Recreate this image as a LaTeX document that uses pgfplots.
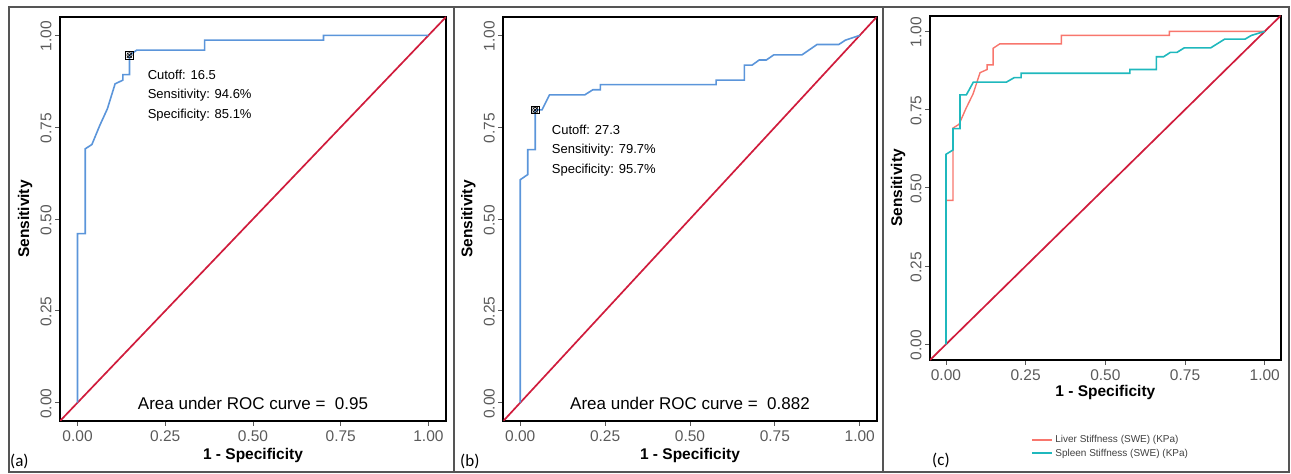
\documentclass[border=0pt]{standalone}
\usepackage{fontspec}
\setmainfont{Liberation Sans}
\newfontfamily\calib{Carlito}
\usepackage{pgfplots}
\pgfplotsset{compat=1.18}
\usepackage{pgfplotstable}

\definecolor{rocblue}{HTML}{5B95DA}
\definecolor{diagred}{HTML}{D01C3C}
\definecolor{liver}{HTML}{F8766D}
\definecolor{spleen}{HTML}{1FB8BD}
\definecolor{ticktext}{HTML}{5A5A5A}
\definecolor{framegray}{HTML}{555555}

% liver stiffness ROC (panel a, salmon in c)
\pgfplotstableread{
x y
0 0
0 0.46
0.022 0.46
0.022 0.691
0.041 0.703
0.063 0.754
0.085 0.800
0.107 0.868
0.129 0.878
0.129 0.893
0.148 0.893
0.148 0.946
0.169 0.960
0.362 0.960
0.362 0.987
0.701 0.987
0.701 1.0
1.0 1.0
}\livertab

% spleen stiffness ROC (panel b, teal in c)
\pgfplotstableread{
x y
0 0
0 0.607
0.022 0.621
0.022 0.689
0.044 0.689
0.044 0.797
0.064 0.797
0.086 0.838
0.190 0.838
0.214 0.852
0.236 0.852
0.236 0.866
0.577 0.866
0.577 0.878
0.660 0.878
0.660 0.919
0.683 0.919
0.704 0.933
0.725 0.933
0.747 0.947
0.830 0.947
0.874 0.975
0.938 0.975
0.958 0.987
1.0 1.0
}\spleentab

\pgfplotsset{
  rocaxis/.style={
    scale only axis,
    anchor=south west,
    xmin=-0.05, xmax=1.05, ymin=-0.05, ymax=1.05,
    xtick={0,0.25,0.5,0.75,1}, ytick={0,0.25,0.5,0.75,1},
    xtick pos=left, ytick pos=left,
    tick align=outside,
    major tick length=5pt,
    tick style={ticktext, line width=0.8pt},
    axis line style={black, line width=1.9pt},
    /pgf/number format/.cd, fixed, fixed zerofill, precision=2, assume math mode=true,
    /pgfplots/.cd,
    tick label style={font=\fontsize{15.5}{16}\selectfont, text=ticktext},
    xticklabel style={yshift=-1pt},
    yticklabel style={rotate=90, anchor=south, xshift=-1pt},
    xlabel={1 - Specificity}, ylabel={Sensitivity},
    label style={font=\bfseries\fontsize{15.5}{16}\selectfont},
    clip=true,
  },
  roc/.style={rocblue, line width=1.6pt},
  diag/.style={diagred, line width=1.7pt},
}

\begin{document}
\begin{tikzpicture}
\useasboundingbox (0pt,0pt) rectangle (1291pt,474pt);

% panel (a)
\begin{axis}[rocaxis, at={(60pt,53pt)}, width=386pt, height=404pt,
  xlabel style={at={(axis description cs:0.5,0)}, anchor=center, yshift=-34pt},
  ylabel style={at={(axis description cs:0,0.5)}, anchor=center, yshift=35pt}]
\addplot[diag] coordinates {(-0.05,-0.05) (1.05,1.05)};
\addplot[roc] table[x=x,y=y] {\livertab};
\addplot[only marks, mark=square, mark size=3.8pt, line width=0.8pt] coordinates {(0.148,0.946)};
\addplot[only marks, mark=x, mark size=3.6pt, line width=0.6pt] coordinates {(0.148,0.946)};
\addplot[only marks, mark=o, mark size=2.6pt, line width=0.6pt] coordinates {(0.148,0.946)};
\node[anchor=west, font=\fontsize{13}{14}\selectfont] at (axis cs:0.19,0.893) {Cutoff: 16.5};
\node[anchor=west, font=\fontsize{13}{14}\selectfont] at (axis cs:0.19,0.837) {Sensitivity: 94.6\%};
\node[anchor=west, font=\fontsize{13}{14}\selectfont] at (axis cs:0.19,0.782) {Specificity: 85.1\%};
\node[font=\fontsize{17}{18}\selectfont] at (axis cs:0.5,-0.002) {Area under ROC curve =\ \ 0.95};
\end{axis}

% panel (b)
\begin{axis}[rocaxis, at={(503.3pt,53pt)}, width=373.4pt, height=404pt,
  xlabel style={at={(axis description cs:0.5,0)}, anchor=center, yshift=-34pt},
  ylabel style={at={(axis description cs:0,0.5)}, anchor=center, yshift=35pt}]
\addplot[diag] coordinates {(-0.05,-0.05) (1.05,1.05)};
\addplot[roc] table[x=x,y=y] {\spleentab};
\addplot[only marks, mark=square, mark size=3.8pt, line width=0.8pt] coordinates {(0.044,0.797)};
\addplot[only marks, mark=x, mark size=3.6pt, line width=0.6pt] coordinates {(0.044,0.797)};
\addplot[only marks, mark=o, mark size=2.6pt, line width=0.6pt] coordinates {(0.044,0.797)};
\node[anchor=west, font=\fontsize{13}{14}\selectfont] at (axis cs:0.083,0.742) {Cutoff: 27.3};
\node[anchor=west, font=\fontsize{13}{14}\selectfont] at (axis cs:0.083,0.687) {Sensitivity: 79.7\%};
\node[anchor=west, font=\fontsize{13}{14}\selectfont] at (axis cs:0.083,0.632) {Specificity: 95.7\%};
\node[font=\fontsize{17}{18}\selectfont] at (axis cs:0.5,-0.002) {Area under ROC curve =\ \ 0.882};
\end{axis}

% panel (c)
\begin{axis}[rocaxis, at={(930pt,114pt)}, width=350.7pt, height=344.3pt,
  xlabel style={at={(axis description cs:0.5,0)}, anchor=center, yshift=-32pt},
  ylabel style={at={(axis description cs:0,0.5)}, anchor=center, yshift=32pt},
  legend style={at={(axis description cs:0.289,-0.213)}, anchor=north west, draw=none,
    fill=none, inner sep=0pt, row sep=0.5pt,
    font=\fontsize{10}{11}\selectfont,
    cells={anchor=west}},
  legend image code/.code={\draw[#1, line width=1.8pt] (0pt,0pt) -- (20pt,0pt);}]
\addplot[diag, forget plot] coordinates {(-0.05,-0.05) (1.05,1.05)};
\addplot[liver, line width=1.4pt] table[x=x,y=y] {\livertab};
\addlegendentry[text=black!75]{Liver Stiffness (SWE) (KPa)}
\addplot[spleen, line width=1.6pt] table[x=x,y=y] {\spleentab};
\addlegendentry[text=black!75]{Spleen Stiffness (SWE) (KPa)}
\end{axis}

% outer frame and separators
\draw[framegray, line width=1.2pt] (9pt,2pt) rectangle (1289pt,467pt);
\draw[framegray, line width=1.2pt] (454pt,2pt) -- (454pt,467pt);
\draw[framegray, line width=1.2pt] (883pt,2pt) -- (883pt,467pt);

% panel letters
\node[anchor=west, inner sep=0pt, font=\calib\fontsize{17}{18}\selectfont] at (10pt,13pt) {(a)};
\node[anchor=west, inner sep=0pt, font=\calib\fontsize{17}{18}\selectfont] at (460pt,13pt) {(b)};
\node[anchor=west, inner sep=0pt, font=\calib\fontsize{17}{18}\selectfont] at (932pt,14pt) {(c)};
\end{tikzpicture}
\end{document}
